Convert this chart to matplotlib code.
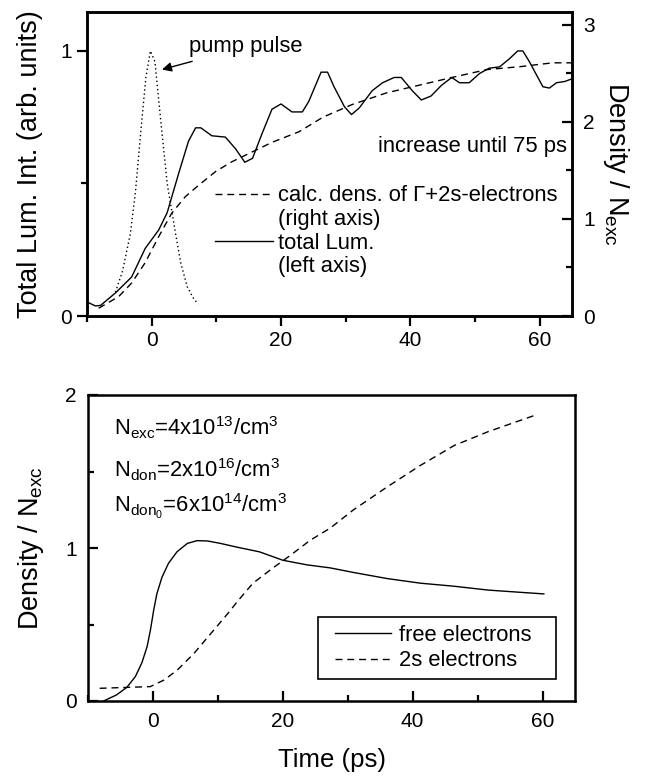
import matplotlib
matplotlib.use("Agg")
import matplotlib.pyplot as plt
from matplotlib.lines import Line2D
from matplotlib.legend_handler import HandlerLine2D
from matplotlib.ticker import FixedLocator

plt.rcParams['font.family'] = ['Liberation Sans', 'DejaVu Sans']
plt.rcParams['mathtext.default'] = 'regular'

# ---------------- data: top panel ----------------
t_lum = [-10.0, -8.7, -7.9, -5.6, -3.1, -1.0, 1.1, 2.4, 4.2, 5.7, 6.8, 7.6, 9.3, 11.4,
         13.0, 14.4, 15.6, 17.1, 18.6, 20.0, 21.7, 23.3, 24.3, 26.2, 27.2, 28.2, 29.8,
         30.9, 32.1, 34.1, 35.7, 37.5, 38.6, 40.3, 41.7, 43.2, 44.8, 46.4, 47.6, 49.1,
         50.7, 52.2, 53.8, 55.3, 56.6, 57.4, 58.4, 59.5, 60.5, 61.5, 62.6, 63.9, 65.0]
lum = [0.053, 0.038, 0.04, 0.087, 0.147, 0.255, 0.325, 0.39, 0.54, 0.66, 0.71, 0.71,
       0.68, 0.675, 0.63, 0.58, 0.595, 0.69, 0.78, 0.80, 0.77, 0.77, 0.81, 0.92, 0.92,
       0.865, 0.79, 0.76, 0.785, 0.85, 0.88, 0.90, 0.90, 0.85, 0.815, 0.83, 0.87, 0.90,
       0.88, 0.88, 0.915, 0.935, 0.94, 0.97, 1.0, 1.0, 0.96, 0.91, 0.865, 0.86, 0.88,
       0.885, 0.895]

t_calc = [-8.2, -5.1, -3.1, -1.0, 1.1, 3.1, 5.2, 7.3, 9.9, 12.4, 15.5, 18.6, 22.8,
          26.5, 31.0, 36.3, 41.4, 46.5, 51.8, 56.9, 62.0, 65.0]
calc = [0.08, 0.2, 0.34, 0.55, 0.82, 1.06, 1.23, 1.35, 1.49, 1.59, 1.69, 1.79, 1.90,
        2.05, 2.18, 2.30, 2.38, 2.46, 2.54, 2.57, 2.61, 2.61]

t_pump = [-5.6, -4.5, -3.3, -2.5, -1.7, -0.9, -0.2, 0.5, 1.6, 2.4, 3.7, 4.5, 5.5, 6.5, 7.2]
pump = [0.09, 0.17, 0.31, 0.47, 0.69, 0.90, 1.0, 0.96, 0.69, 0.50, 0.31, 0.20, 0.11,
        0.065, 0.045]

# ---------------- data: bottom panel ----------------
t_free = [-7.6, -5.6, -4.0, -2.7, -1.7, -0.9, -0.4, 0.1, 0.6, 1.4, 2.4, 3.7, 5.3, 6.8,
          8.4, 10.4, 13.0, 16.4, 20.0, 23.7, 27.3, 30.9, 36.1, 41.2, 46.4, 51.6, 56.7,
          60.2]
free = [0.0, 0.04, 0.09, 0.16, 0.25, 0.355, 0.46, 0.59, 0.70, 0.81, 0.90, 0.975, 1.03,
        1.048, 1.046, 1.03, 1.005, 0.975, 0.92, 0.89, 0.87, 0.84, 0.80, 0.77, 0.75,
        0.725, 0.71, 0.70]

t_2s = [-8.2, -0.4, 1.7, 3.7, 6.3, 8.9, 11.5, 13.0, 15.4, 18.5, 21.1, 24.2, 27.3, 30.9,
        36.1, 41.2, 46.4, 51.6, 59.0]
s2 = [0.083, 0.094, 0.137, 0.20, 0.31, 0.44, 0.57, 0.65, 0.77, 0.87, 0.95, 1.05, 1.13,
      1.25, 1.40, 1.54, 1.67, 1.76, 1.87]

x_major = [0, 20, 40, 60]
x_minor = [-10, 10, 30, 50]

# ---------------- figure ----------------
fig = plt.figure(figsize=(6.54, 7.78), dpi=100)
ax1 = fig.add_axes([87/654, 1-316/778, 485/654, 304/778])
ax2 = ax1.twinx()
ax3 = fig.add_axes([88/654, 1-701/778, 487/654, 306/778])

DASH = (0, (5, 3.5))
LW = 1.0
SPW = 1.8
TFS = 15
LFS = 15.8

ax1.plot(t_lum, lum, color='k', lw=LW)
ax1.plot(t_pump, pump, color='k', lw=1.0, linestyle=(0, (1, 2)))
ax2.plot(t_calc, calc, color='k', lw=LW, linestyle=DASH)

ax1.set_xlim(-10, 65)
ax1.set_ylim(0, 1.147)
ax2.set_ylim(0, 3.134)

ax1.xaxis.set_major_locator(FixedLocator(x_major))
ax1.xaxis.set_minor_locator(FixedLocator(x_minor))
ax1.yaxis.set_major_locator(FixedLocator([0, 1]))
ax1.yaxis.set_minor_locator(FixedLocator([0.5]))
ax2.yaxis.set_major_locator(FixedLocator([0, 1, 2, 3]))
ax2.yaxis.set_minor_locator(FixedLocator([0.5, 1.5, 2.5]))

ax1.tick_params(axis='both', which='major', direction='out', length=7, width=1.6,
                labelsize=TFS, pad=4)
ax1.tick_params(axis='both', which='minor', direction='out', length=4, width=1.6)
ax2.tick_params(axis='y', which='major', direction='in', length=7, width=1.6,
                labelsize=TFS, pad=8)
ax2.tick_params(axis='y', which='minor', direction='in', length=4, width=1.6)

for a in (ax1, ax2, ax3):
    for s in a.spines.values():
        s.set_linewidth(SPW)

ax1.set_ylabel('Total Lum. Int. (arb. units)', fontsize=19.5, labelpad=12)
ax2.set_ylabel('Density / N$_{exc}$', fontsize=19.5, rotation=270, labelpad=26)

ax1.annotate('pump pulse', xy=(1.6, 0.93), xytext=(5.7, 1.015), fontsize=LFS,
             ha='left', va='center',
             arrowprops=dict(arrowstyle='-|>', color='k', lw=1.0, mutation_scale=14,
                             shrinkA=3, shrinkB=0))
ax1.text(64.3, 0.64, 'increase until 75 ps', fontsize=LFS, ha='right', va='center')

h_calc = Line2D([], [], color='k', lw=LW, linestyle=DASH)
h_lum = Line2D([], [], color='k', lw=LW)
h_none = Line2D([], [], color='none', lw=0)
leg1 = ax1.legend([h_calc, h_none, h_lum, h_none],
                  ['calc. dens. of \u0393+2s-electrons', '(right axis)',
                   'total Lum.', '(left axis)'],
                  loc='upper left', bbox_to_anchor=(0.264, 0.43), frameon=False,
                  fontsize=LFS, handlelength=2.64, handletextpad=0.23,
                  labelspacing=0.12, borderpad=0, borderaxespad=0)

# ---------------- bottom panel ----------------
ax3.plot(t_free, free, color='k', lw=LW, label='free electrons')
ax3.plot(t_2s, s2, color='k', lw=LW, linestyle=DASH, label='2s electrons')
ax3.set_xlim(-10, 65)
ax3.set_ylim(0, 2)
ax3.xaxis.set_major_locator(FixedLocator(x_major))
ax3.xaxis.set_minor_locator(FixedLocator(x_minor))
ax3.yaxis.set_major_locator(FixedLocator([0, 1, 2]))
ax3.yaxis.set_minor_locator(FixedLocator([0.5, 1.5]))
ax3.tick_params(axis='both', which='major', direction='in', length=7, width=1.6,
                labelsize=TFS, pad=8)
ax3.tick_params(axis='both', which='minor', direction='in', length=4, width=1.6)
ax3.set_xlabel('Time (ps)', fontsize=18.5, labelpad=12)
ax3.set_ylabel('Density / N$_{exc}$', fontsize=19.5, labelpad=14)

ax3.text(-6.0, 1.739, 'N$_{exc}$=4x10$^{13}$/cm$^3$', fontsize=LFS, ha='left',
         va='baseline')
ax3.text(-6.0, 1.464, 'N$_{don}$=2x10$^{16}$/cm$^3$', fontsize=LFS, ha='left',
         va='baseline')
ax3.text(-6.0, 1.229, 'N$_{don_0}$=6x10$^{14}$/cm$^3$', fontsize=LFS, ha='left',
         va='baseline')

leg3 = ax3.legend(loc='lower left', bbox_to_anchor=(0.472, 0.072, 0.489, 0.225),
                  mode='expand', fontsize=LFS, frameon=True, fancybox=False,
                  framealpha=1, edgecolor='k', handlelength=3.0, handletextpad=0.35,
                  labelspacing=0.2, borderpad=0.35, borderaxespad=0,
                  handler_map={Line2D: HandlerLine2D(xpad=0.45)})
leg3.get_frame().set_linewidth(1.2)

fig.savefig('out.png', dpi=100)
